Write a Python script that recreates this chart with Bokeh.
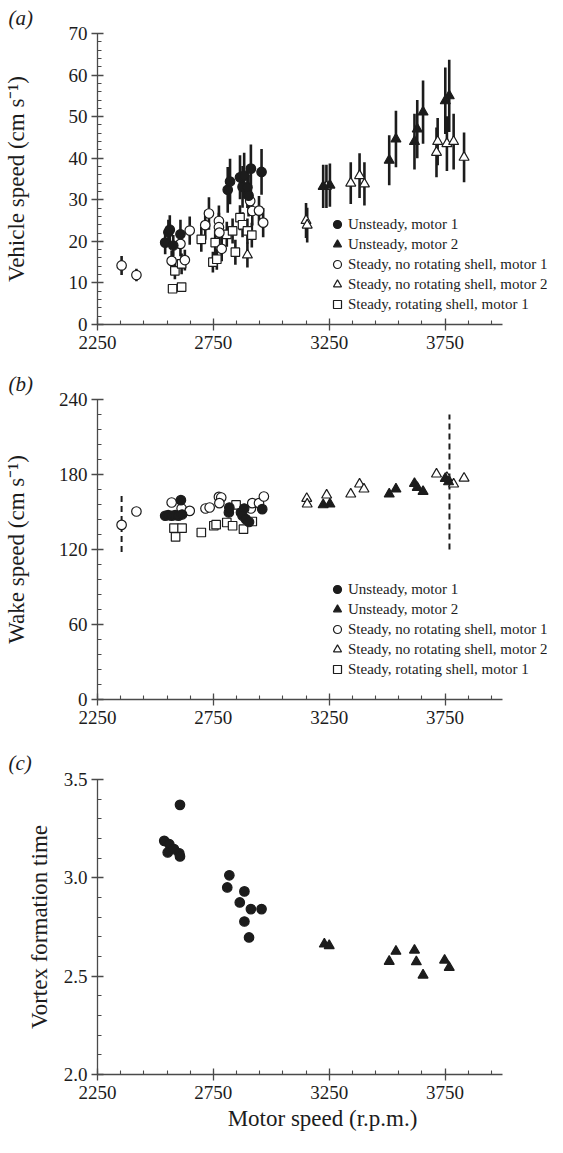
from bokeh.plotting import figure
from bokeh.models import Range1d, FixedTicker, Legend, LegendItem, PrintfTickFormatter, Title
from bokeh.layouts import column
from bokeh.embed import file_html
from bokeh.resources import INLINE

# ---------------- data ----------------
x_ticks = [2250, 2750, 3250, 3750]
legend_labels = ["Unsteady, motor 1", "Unsteady, motor 2",
                 "Steady, no rotating shell, motor 1",
                 "Steady, no rotating shell, motor 2",
                 "Steady, rotating shell, motor 1"]

# (a) vehicle speed (cm/s) with error half-widths
a_u1_x = [2542, 2556, 2562, 2577, 2608, 2812, 2822, 2865, 2876, 2883, 2897, 2902, 2912, 2958]
a_u1_y = [19.7, 22.2, 22.8, 19.0, 21.7, 32.4, 34.4, 35.4, 33.1, 35.8, 33.0, 31.0, 37.5, 36.7]
a_u1_e = [2.8, 3.0, 3.5, 2.5, 3.5, 5.5, 5.5, 5.3, 5.0, 5.5, 5.0, 5.0, 5.8, 5.5]

a_u2_x = [3224, 3253, 3509, 3538, 3618, 3630, 3655, 3751, 3768]
a_u2_y = [33.2, 33.5, 39.5, 44.6, 44.0, 47.0, 51.1, 53.8, 55.0]
a_u2_e = [5.2, 5.2, 6.0, 6.8, 6.7, 7.0, 7.6, 8.0, 8.7]

a_s1_x = [2354, 2418, 2570, 2608, 2627, 2648, 2715, 2731, 2774, 2774, 2776, 2786, 2909, 2918, 2947, 2965]
a_s1_y = [14.2, 11.9, 15.3, 19.4, 15.5, 22.6, 23.9, 26.7, 24.9, 23.4, 22.1, 18.2, 29.7, 27.3, 27.4, 24.5]
a_s1_e = [2.3, 1.5, 2.5, 3.0, 2.5, 3.4, 3.5, 3.9, 3.7, 3.5, 3.5, 3.0, 3.5, 3.5, 3.5, 3.5]

a_s2_x = [2897, 3150, 3155, 3238, 3343, 3381, 3402, 3713, 3718, 3758, 3787, 3832]
a_s2_y = [16.7, 25.0, 23.9, 33.2, 34.0, 35.8, 33.8, 41.4, 44.0, 43.5, 44.0, 40.2]
a_s2_e = [3.0, 4.2, 4.2, 5.2, 5.0, 5.4, 5.2, 6.0, 5.7, 6.6, 6.7, 6.0]

a_r1_x = [2574, 2613, 2584, 2613, 2698, 2748, 2765, 2758, 2808, 2833, 2845, 2865, 2876, 2897, 2916]
a_r1_y = [8.6, 9.0, 12.9, 14.6, 20.5, 15.0, 15.7, 19.7, 21.7, 22.5, 17.4, 25.7, 24.0, 22.5, 21.5]
a_r1_e = [1.0, 1.0, 2.0, 2.5, 3.0, 2.5, 2.5, 3.0, 3.0, 3.0, 3.0, 3.0, 3.0, 3.0, 3.0]

# (b) wake speed (cm/s)
b_u1_x = [2542, 2555, 2570, 2585, 2600, 2615, 2610, 2817, 2819, 2869, 2883, 2876, 2890, 2904, 2961]
b_u1_y = [147, 147.5, 147, 147.5, 147, 148, 159.5, 149.6, 153.6, 149.6, 152.8, 147, 144.3, 142, 152.3]
b_u2_x = [3224, 3253, 3509, 3538, 3618, 3630, 3655, 3751, 3765]
b_u2_y = [155.7, 156.3, 164.3, 168.3, 172.8, 169.6, 166.4, 176.8, 174.1]
b_s1_x = [2354, 2418, 2570, 2613, 2648, 2716, 2734, 2774, 2784, 2776, 2912, 2918, 2947, 2968]
b_s1_y = [139.7, 150.4, 157.6, 152.8, 150.9, 152.8, 153.6, 162.1, 161.6, 157.1, 152.8, 157.1, 157.1, 162.4]
b_s2_x = [3153, 3155, 3239, 3343, 3381, 3400, 3713, 3758, 3787, 3832]
b_s2_y = [160.8, 156.3, 163.5, 164.3, 172.3, 168.3, 180.3, 177.6, 172.3, 177.0]
b_r1_x = [2580, 2615, 2587, 2698, 2752, 2762, 2808, 2833, 2848, 2880, 2918]
b_r1_y = [137.1, 137.1, 130.1, 133.6, 139.0, 139.9, 141.6, 139.0, 155.7, 136.3, 142.4]
b_dash_x = [2354, 3769]
b_dash_lo = [118, 120]
b_dash_hi = [163, 228]

# (c) vortex formation time
c_u1_x = [2606, 2538, 2560, 2553, 2580, 2603, 2606, 2819, 2810, 2884, 2864, 2912, 2958, 2884, 2904]
c_u1_y = [3.371, 3.188, 3.171, 3.129, 3.146, 3.125, 3.109, 3.013, 2.951, 2.931, 2.875, 2.841, 2.841, 2.778, 2.697]
c_u2_x = [3229, 3250, 3509, 3538, 3618, 3626, 3655, 3748, 3768]
c_u2_y = [2.663, 2.655, 2.575, 2.626, 2.632, 2.573, 2.505, 2.581, 2.544]

# ---------------- style ----------------
FONT = "Liberation Serif"
INK = "#1c1c1c"
AXC = "#4a4a4a"
W = 547
LEFT = 92
X0, X1 = 2250, 4000
PX_PER_RPM = 410 / 1750.0            # axis 2250..4000 spans 410 px
X_END = X0 + (W - LEFT) / PX_PER_RPM   # frame extends to figure edge (room for legend)


def base_fig(height, top, bottom, y0, y1, yt, ymin, ylabel, standoff, letter, title_standoff, fmt=None):
    p = figure(width=W, height=height, x_range=Range1d(X0, X_END), y_range=Range1d(y0, y1),
               output_backend="svg", toolbar_location=None,
               min_border_left=LEFT, min_border_right=0, min_border_top=top, min_border_bottom=bottom)
    p.title = Title(text="(" + letter + ")", align="left", offset=-LEFT + 3,
                    text_font=FONT, text_font_size="21px", text_font_style="italic",
                    text_color=INK, standoff=title_standoff)
    p.outline_line_color = None
    p.grid.visible = False
    p.background_fill_color = "white"
    p.border_fill_color = "white"
    p.xaxis.ticker = FixedTicker(ticks=x_ticks, minor_ticks=list(range(2250, 4001, 100)))
    p.xaxis.bounds = (X0, X1)
    p.yaxis.ticker = FixedTicker(ticks=yt, minor_ticks=ymin)
    if fmt:
        p.yaxis.formatter = PrintfTickFormatter(format=fmt)
    for ax in (p.xaxis[0], p.yaxis[0]):
        ax.axis_line_color = AXC
        ax.axis_line_width = 1.3
        ax.major_tick_line_color = AXC
        ax.minor_tick_line_color = AXC
        ax.major_tick_line_width = 1.3
        ax.minor_tick_line_width = 1.1
        ax.major_tick_in = 6
        ax.major_tick_out = 6
        ax.minor_tick_in = 4
        ax.minor_tick_out = 0
        ax.major_label_text_font = FONT
        ax.major_label_text_font_size = "19px"
        ax.major_label_text_color = INK
        ax.axis_label_text_font = FONT
        ax.axis_label_text_font_size = "23px"
        ax.axis_label_text_font_style = "normal"
        ax.axis_label_text_color = INK
    p.xaxis.major_label_standoff = 5
    p.yaxis.major_label_standoff = 4
    p.yaxis.axis_label = ylabel
    p.yaxis.axis_label_standoff = standoff
    return p


def add_series(p, x, y, kind, filled, size):
    fill = INK if filled else "white"
    return p.scatter(x, y, marker=kind, size=size, fill_color=fill, line_color=INK, line_width=1.2)


def add_legend(p, rends, lx, ly):
    items = [LegendItem(label=lab, renderers=[r]) for lab, r in zip(legend_labels, rends)]
    lg = Legend(items=items, location=(lx, ly), orientation="vertical",
                border_line_alpha=0, background_fill_alpha=0, padding=0, margin=0, spacing=0,
                glyph_width=20, glyph_height=20, label_height=20, label_standoff=1,
                label_text_font=FONT, label_text_font_size="15px", label_text_color=INK)
    p.add_layout(lg, "center")


# ---------------- panel (a) ----------------
pa = base_fig(360, 32, 36, 0, 70, list(range(0, 71, 10)), list(range(0, 71, 2)),
              "Vehicle speed (cm s⁻¹)", 37, "a", 7)
for xs, ys, es in [(a_u1_x, a_u1_y, a_u1_e), (a_u2_x, a_u2_y, a_u2_e), (a_s1_x, a_s1_y, a_s1_e),
                   (a_s2_x, a_s2_y, a_s2_e), (a_r1_x, a_r1_y, a_r1_e)]:
    pa.segment(x0=xs, x1=xs, y0=[v - e for v, e in zip(ys, es)], y1=[v + e for v, e in zip(ys, es)],
               line_color=INK, line_width=2.6)
ra = [add_series(pa, a_r1_x, a_r1_y, "square", False, 8.5),
      add_series(pa, a_s1_x, a_s1_y, "circle", False, 9.5),
      add_series(pa, a_s2_x, a_s2_y, "triangle", False, 10),
      add_series(pa, a_u1_x, a_u1_y, "circle", True, 9.5),
      add_series(pa, a_u2_x, a_u2_y, "triangle", True, 10)]
add_legend(pa, [ra[3], ra[4], ra[1], ra[2], ra[0]], 230, 10)

# ---------------- panel (b) ----------------
pb = base_fig(375, 39, 36, 0, 240, list(range(0, 241, 60)), list(range(0, 241, 12)),
              "Wake speed (cm s⁻¹)", 27, "b", 8)
pb.segment(x0=b_dash_x, x1=b_dash_x, y0=b_dash_lo, y1=b_dash_hi, line_color=INK,
           line_width=2, line_dash="6 4")
rb = [add_series(pb, b_r1_x, b_r1_y, "square", False, 8.5),
      add_series(pb, b_s1_x, b_s1_y, "circle", False, 9.5),
      add_series(pb, b_s2_x, b_s2_y, "triangle", False, 10),
      add_series(pb, b_u1_x, b_u1_y, "circle", True, 9.5),
      add_series(pb, b_u2_x, b_u2_y, "triangle", True, 10)]
add_legend(pb, [rb[3], rb[4], rb[1], rb[2], rb[0]], 230, 20)

# ---------------- panel (c) ----------------
pc = base_fig(402, 44, 63, 2.0, 3.5, [2.0, 2.5, 3.0, 3.5], [round(2.0 + 0.1 * i, 1) for i in range(16)],
              "Vortex formation time", 9, "c", 10, fmt="%.1f")
pc.xaxis.axis_label = "Motor speed (r.p.m.)"
pc.xaxis.axis_label_standoff = 4
add_series(pc, c_u1_x, c_u1_y, "circle", True, 9.5)
add_series(pc, c_u2_x, c_u2_y, "triangle", True, 10)

layout = column(pa, pb, pc, spacing=0)
open("out.html", "w").write(file_html(layout, INLINE))
